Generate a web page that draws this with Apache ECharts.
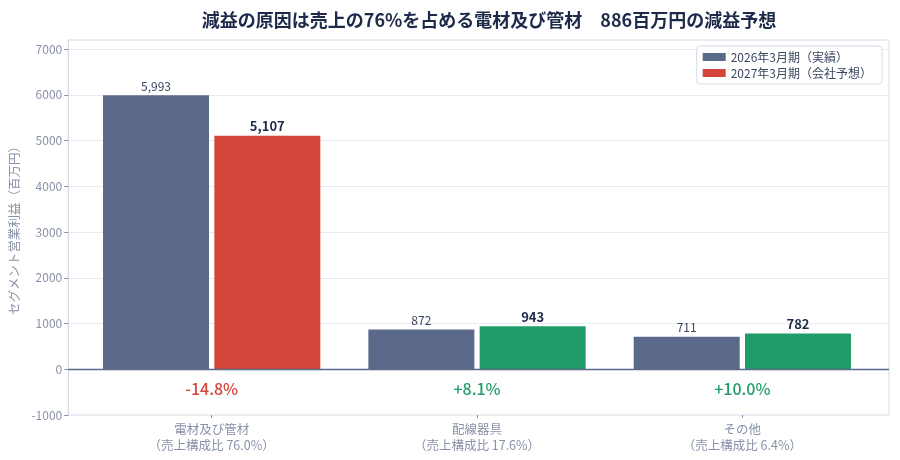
<!DOCTYPE html>
<html><head><meta charset="utf-8">
<script src="https://cdn.jsdelivr.net/npm/echarts@6/dist/echarts.min.js"></script>
<style>html,body{margin:0;padding:0;background:#fff}#c{width:900px;height:460px}</style>
</head><body><div id="c"></div>
<script>
const segments = ['電材及び管材', '配線器具', 'その他'];
const shares = ['76.0%', '17.6%', '6.4%'];
const actual2026 = [5993, 872, 711];
const forecast2027 = [5107, 943, 782];
const changes = ['-14.8%', '+8.1%', '+10.0%'];
const seriesNames = ['2026年3月期（実績）', '2027年3月期（会社予想）'];
const yTicks = { min: -1000, max: 7200, interval: 1000 };

const FONT = '"Noto Sans CJK JP", "Noto Sans", sans-serif';
const BLUE = '#5b6a8a', RED = '#d4453a', GREEN = '#1f9d68';
const categories = segments.map((s, i) => s + '\n（売上構成比 ' + shares[i] + '）');
const fmt = v => v.toLocaleString('en-US');

const chart = echarts.init(document.getElementById('c'));
chart.setOption({
  animation: false,
  textStyle: { fontFamily: FONT },
  title: {
    text: '減益の原因は売上の76%を占める電材及び管材　886百万円の減益予想',
    left: 484, textAlign: 'center', top: 6,
    textStyle: { fontSize: 18, fontWeight: 'bold', color: '#1e2a4a', fontFamily: FONT }
  },
  legend: {
    data: seriesNames, orient: 'vertical', right: 18, top: 46,
    backgroundColor: '#fff', borderColor: '#d5dce6', borderWidth: 1, borderRadius: 3,
    padding: [5, 10, 5, 6], itemGap: 4, itemWidth: 23, itemHeight: 8,
    icon: 'rect',
    textStyle: { fontSize: 12, color: '#3a4560', fontFamily: FONT }
  },
  grid: [
    { left: 66, right: 11, top: 40, bottom: 45, show: true, borderColor: '#d5dce6', borderWidth: 1 },
    { left: 79, right: 25, top: 40, bottom: 45 }
  ],
  xAxis: [
    { gridIndex: 0, type: 'value', min: 0, max: 1, show: false },
    {
      gridIndex: 1, type: 'category', data: categories, position: 'bottom',
      axisLine: { show: false, onZero: false },
      axisTick: { show: true, alignWithLabel: true, length: 3, lineStyle: { color: '#8891a7' } },
      axisLabel: { color: '#8891a7', fontSize: 12.5, lineHeight: 16, margin: 6, fontFamily: FONT }
    }
  ],
  yAxis: [
    {
      gridIndex: 0, type: 'value', min: yTicks.min, max: yTicks.max, interval: yTicks.interval,
      name: 'セグメント営業利益（百万円）', nameLocation: 'middle', nameGap: 42, nameRotate: 90,
      nameTextStyle: { color: '#8891a7', fontSize: 12.5, fontFamily: FONT },
      axisLine: { show: true, lineStyle: { color: '#d5dce6' } },
      axisTick: { show: true, length: 4, lineStyle: { color: '#8891a7' } },
      axisLabel: { color: '#8891a7', fontSize: 12, margin: 6, showMaxLabel: false, fontFamily: FONT,
        formatter: v => String(v) },
      splitLine: { show: true, lineStyle: { color: '#e6ebf2' } }
    },
    { gridIndex: 1, type: 'value', min: yTicks.min, max: yTicks.max, interval: yTicks.interval, show: false }
  ],
  series: [
    {
      type: 'line', xAxisIndex: 0, yAxisIndex: 0, data: [], silent: true,
      markLine: {
        silent: true, symbol: 'none', label: { show: false },
        lineStyle: { color: BLUE, width: 1.3, type: 'solid' },
        data: [{ yAxis: 0 }]
      }
    },
    {
      name: seriesNames[0], type: 'bar', xAxisIndex: 1, yAxisIndex: 1,
      data: actual2026, barWidth: 106, barGap: '5%',
      itemStyle: { color: BLUE },
      label: { show: true, position: 'top', distance: 3, formatter: p => fmt(p.value),
        color: '#3a4560', fontSize: 12, fontFamily: FONT }
    },
    {
      name: seriesNames[1], type: 'bar', xAxisIndex: 1, yAxisIndex: 1,
      data: forecast2027.map((v, i) => ({ value: v, itemStyle: { color: i === 0 ? RED : GREEN } })),
      barWidth: 106, barGap: '5%',
      itemStyle: { color: RED },
      label: { show: true, position: 'top', distance: 3, formatter: p => fmt(p.value),
        color: '#1e2a4a', fontSize: 13, fontWeight: 'bold', fontFamily: FONT }
    },
    {
      type: 'scatter', xAxisIndex: 1, yAxisIndex: 1, symbolSize: 0, silent: true,
      itemStyle: { opacity: 1 },
      data: changes.map((c, i) => ({
        value: -420,
        label: { color: c.startsWith('-') ? RED : GREEN }
      })),
      label: {
        show: true, position: 'inside',
        formatter: p => changes[p.dataIndex],
        fontSize: 16, fontWeight: 500, fontFamily: FONT,
        textBorderWidth: 0
      }
    }
  ]
});
</script></body></html>
